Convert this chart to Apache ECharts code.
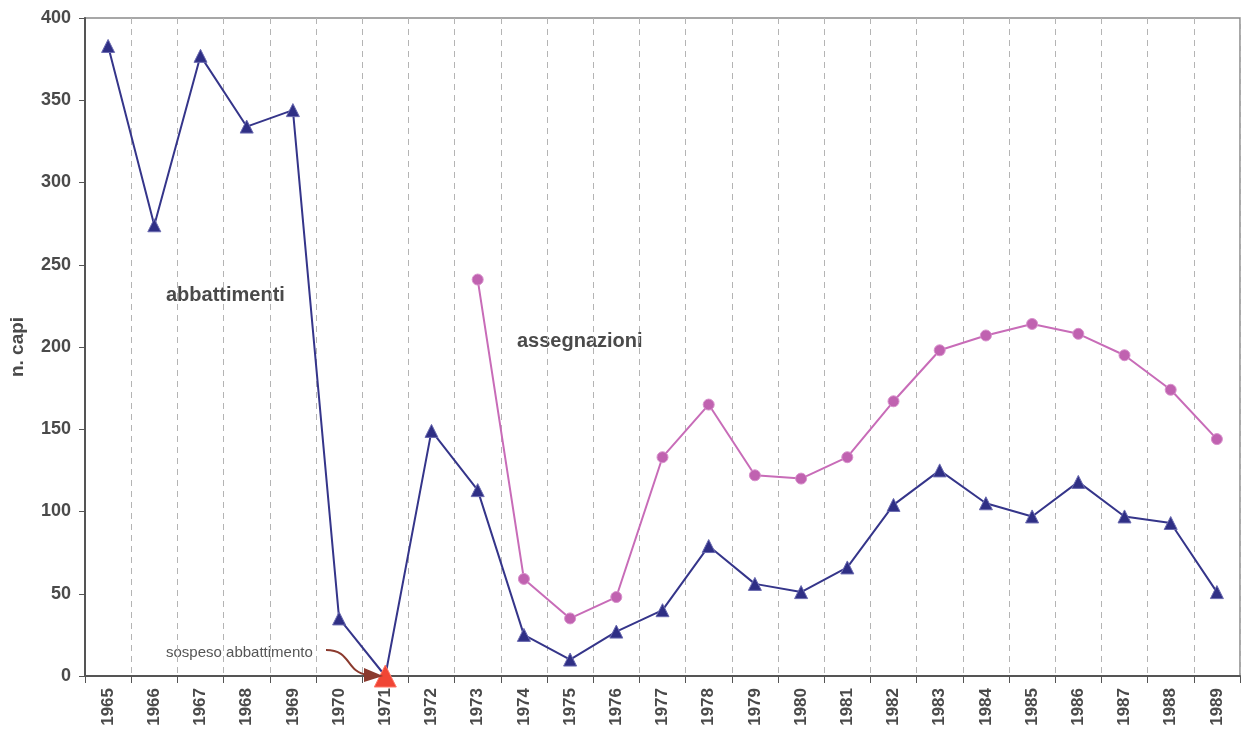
<!DOCTYPE html>
<html>
<head>
<meta charset="utf-8">
<script src="https://cdn.jsdelivr.net/npm/echarts@6/dist/echarts.min.js"></script>
<style>
html,body{margin:0;padding:0;background:#fff;}
#chart{width:1241px;height:730px;}
</style>
</head>
<body>
<div id="chart"></div>
<script>
const years = ['1965','1966','1967','1968','1969','1970','1971','1972','1973','1974','1975','1976','1977','1978','1979','1980','1981','1982','1983','1984','1985','1986','1987','1988','1989'];
const abbattimenti = [383,274,377,334,344,35,0,149,113,25,10,27,40,79,56,51,66,104,125,105,97,118,97,93,51];
const assegnazioni = [null,null,null,null,null,null,null,null,241,59,35,48,133,165,122,120,133,167,198,207,214,208,195,174,144];
const yTicks = [0,50,100,150,200,250,300,350,400];
const sospesoYear = '1971';

const FONT = '"Liberation Sans", Arial, sans-serif';
const TXT = '#4a4a4a';
const BLUE = '#35358a';
const PINK = '#c86cb8';

const chart = echarts.init(document.getElementById('chart'), null, {renderer: 'canvas'});

const blueData = abbattimenti.map((v, i) => years[i] === sospesoYear
  ? {value: v, symbolSize: 22, itemStyle: {color: '#f04535', borderColor: '#ff7a6a', borderWidth: 1}}
  : v);

chart.setOption({
  animation: false,
  backgroundColor: '#fff',
  grid: {left: 85, right: 1, top: 18, bottom: 54, show: true, borderColor: '#8a8a8a', borderWidth: 1.5},
  xAxis: {
    type: 'category',
    data: years,
    boundaryGap: true,
    axisLine: {show: true, lineStyle: {color: '#555', width: 2}},
    axisTick: {show: true, alignWithLabel: false, length: 7, lineStyle: {color: '#555', width: 1}},
    splitLine: {show: true, interval: 0, lineStyle: {color: '#b4b4b4', type: [6, 5], width: 1}},
    axisLabel: {rotate: 90, interval: 0, margin: 12, color: TXT, fontFamily: FONT, fontWeight: 'bold', fontSize: 17}
  },
  yAxis: {
    type: 'value',
    min: 0, max: 400, interval: 50,
    name: 'n. capi',
    nameLocation: 'middle',
    nameGap: 58,
    nameRotate: 90,
    nameTextStyle: {color: TXT, fontFamily: FONT, fontWeight: 'bold', fontSize: 19},
    axisLine: {show: true, lineStyle: {color: '#555', width: 2}},
    axisTick: {show: true, length: 6, lineStyle: {color: '#555', width: 1}},
    splitLine: {show: false},
    axisLabel: {margin: 14, color: TXT, fontFamily: FONT, fontWeight: 'bold', fontSize: 18,
      formatter: v => yTicks.includes(v) ? String(v) : ''}
  },
  series: [
    {
      name: 'abbattimenti',
      type: 'line',
      data: blueData,
      symbol: 'triangle',
      symbolSize: 13,
      z: 3,
      lineStyle: {color: BLUE, width: 2},
      itemStyle: {color: '#2f2f85', borderColor: '#6a6ab0', borderWidth: 1}
    },
    {
      name: 'assegnazioni',
      type: 'line',
      data: assegnazioni,
      connectNulls: false,
      symbol: 'circle',
      symbolSize: 11,
      z: 2,
      lineStyle: {color: PINK, width: 2},
      itemStyle: {color: '#c062b0', borderColor: '#d890cc', borderWidth: 1}
    }
  ],
  graphic: [
    {type: 'text', left: 166, top: 285, style: {text: 'abbattimenti', fill: TXT, font: 'bold 20px ' + FONT}},
    {type: 'text', left: 517, top: 331, style: {text: 'assegnazioni', fill: TXT, font: 'bold 20px ' + FONT}},
    {type: 'text', left: 166, top: 645, style: {text: 'sospeso abbattimento', fill: '#555', font: '15px ' + FONT}},
    {type: 'bezierCurve', z: 10, shape: {x1: 326, y1: 650, x2: 368, y2: 675, cpx1: 352, cpy1: 650, cpx2: 345, cpy2: 672},
      style: {stroke: '#8b3a2e', lineWidth: 2, fill: null}},
    {type: 'polygon', z: 10, shape: {points: [[364, 668], [383, 676], [364, 682]]}, style: {fill: '#8b3a2e'}}
  ]
});
</script>
</body>
</html>
